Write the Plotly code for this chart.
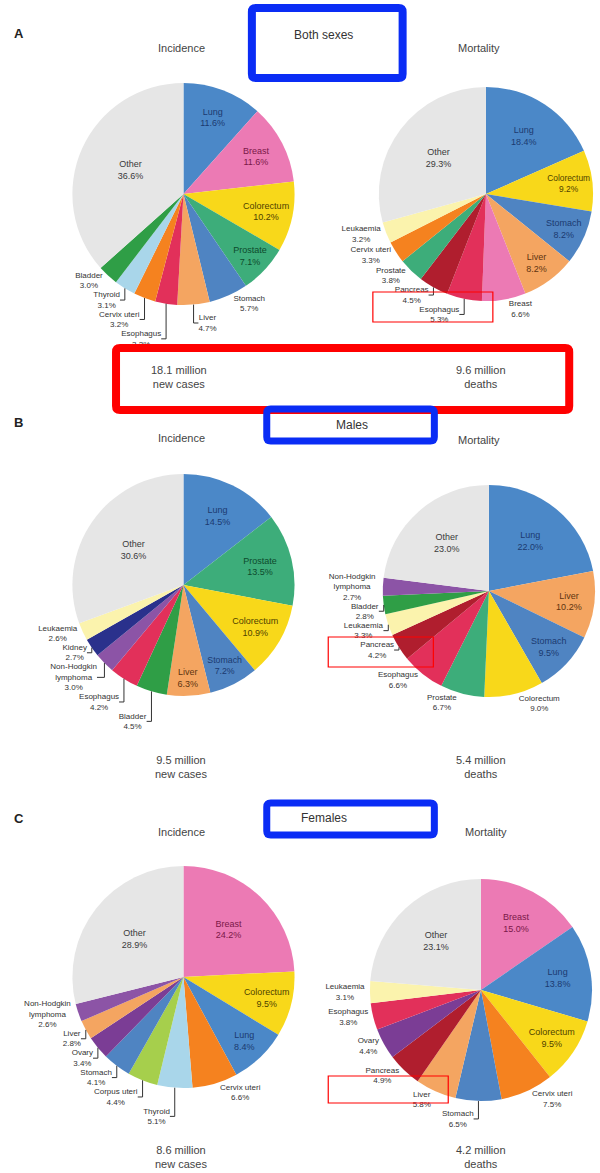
import plotly.graph_objects as go

W, H = 600, 1173

# ---------------- data ----------------
a_inc_labels = ["Lung", "Breast", "Colorectum", "Prostate", "Stomach", "Liver", "Esophagus",
                "Cervix uteri", "Thyroid", "Bladder", "Other"]
a_inc_values = [11.6, 11.6, 10.2, 7.1, 5.7, 4.7, 3.2, 3.2, 3.1, 3.0, 36.6]

a_mort_labels = ["Lung", "Colorectum", "Stomach", "Liver", "Breast", "Esophagus", "Pancreas",
                 "Prostate", "Cervix uteri", "Leukaemia", "Other"]
a_mort_values = [18.4, 9.2, 8.2, 8.2, 6.6, 5.3, 4.5, 3.8, 3.3, 3.2, 29.3]

b_inc_labels = ["Lung", "Prostate", "Colorectum", "Stomach", "Liver", "Bladder", "Esophagus",
                "Non-Hodgkin lymphoma", "Kidney", "Leukaemia", "Other"]
b_inc_values = [14.5, 13.5, 10.9, 7.2, 6.3, 4.5, 4.2, 3.0, 2.7, 2.6, 30.6]

b_mort_labels = ["Lung", "Liver", "Stomach", "Colorectum", "Prostate", "Esophagus", "Pancreas",
                 "Leukaemia", "Bladder", "Non-Hodgkin lymphoma", "Other"]
b_mort_values = [22.0, 10.2, 9.5, 9.0, 6.7, 6.6, 4.2, 3.3, 2.8, 2.7, 23.0]

c_inc_labels = ["Breast", "Colorectum", "Lung", "Cervix uteri", "Thyroid", "Corpus uteri",
                "Stomach", "Ovary", "Liver", "Non-Hodgkin lymphoma", "Other"]
c_inc_values = [24.2, 9.5, 8.4, 6.6, 5.1, 4.4, 4.1, 3.4, 2.8, 2.6, 28.9]

c_mort_labels = ["Breast", "Lung", "Colorectum", "Cervix uteri", "Stomach", "Liver", "Pancreas",
                 "Ovary", "Esophagus", "Leukaemia", "Other"]
c_mort_values = [15.0, 13.8, 9.5, 7.5, 6.5, 5.8, 4.9, 4.4, 3.8, 3.1, 23.1]

totals = [("18.1 million", "new cases"), ("9.6 million", "deaths"),
          ("9.5 million", "new cases"), ("5.4 million", "deaths"),
          ("8.6 million", "new cases"), ("4.2 million", "deaths")]

# ---------------- styles ----------------
colors = {
    "Lung": "#4b88c8", "Breast": "#ec7ab4", "Colorectum": "#f8d81a", "Prostate": "#3dad7a",
    "Stomach": "#4f84c2", "Liver": "#f4a561", "Esophagus": "#e2305a", "Cervix uteri": "#f5821f",
    "Thyroid": "#a9d6ea", "Bladder": "#2f9e46", "Other": "#e6e6e6", "Pancreas": "#b01e2e",
    "Leukaemia": "#fbf3ad", "Non-Hodgkin lymphoma": "#8c54a6", "Kidney": "#2a318c",
    "Corpus uteri": "#a6cf4c", "Ovary": "#7b3d95",
}
inside_text_color = {
    "Lung": "#1c3a70", "Breast": "#7a1848", "Colorectum": "#4f4200", "Prostate": "#0d4a2c",
    "Stomach": "#1c3a70", "Liver": "#5e3410", "Other": "#3a3a3a",
}
FONT = "Liberation Sans, Arial, sans-serif"


def label_text(lbl, v):
    name = "Non-Hodgkin<br>lymphoma" if lbl == "Non-Hodgkin lymphoma" else lbl
    return f"{name}<br>{v:.1f}%"


def domain(cx, cy, r):
    return dict(x=[(cx - r) / W, (cx + r) / W], y=[1 - (cy + r) / H, 1 - (cy - r) / H])


pies = [
    (a_inc_labels, a_inc_values, {"Lung", "Breast", "Colorectum", "Prostate", "Other"}, (185, 194, 112)),
    (a_mort_labels, a_mort_values, {"Lung", "Colorectum", "Stomach", "Liver", "Other"}, (490, 194, 108)),
    (b_inc_labels, b_inc_values, {"Lung", "Prostate", "Colorectum", "Stomach", "Liver", "Other"}, (185, 585, 112)),
    (b_mort_labels, b_mort_values, {"Lung", "Liver", "Stomach", "Other"}, (493, 591, 107)),
    (c_inc_labels, c_inc_values, {"Breast", "Colorectum", "Lung", "Other"}, (185, 977, 112)),
    (c_mort_labels, c_mort_values, {"Breast", "Lung", "Colorectum", "Other"}, (485, 990, 112)),
]

fig = go.Figure()
for labels, values, inside, (cx, cy, r) in pies:
    fig.add_trace(go.Pie(
        labels=labels, values=values,
        text=[label_text(l, v) for l, v in zip(labels, values)],
        texttemplate="%{text}",
        textposition=["inside" if l in inside else "outside" for l in labels],
        insidetextorientation="horizontal",
        insidetextfont=dict(family=FONT, size=9,
                            color=[inside_text_color.get(l, "#333") for l in labels]),
        outsidetextfont=dict(family=FONT, size=8, color="#333"),
        marker=dict(colors=[colors[l] for l in labels], line=dict(width=0)),
        sort=False, direction="clockwise", rotation=0,
        domain=domain(cx, cy, r), showlegend=False, hoverinfo="label+value",
    ))


def px(x, y):
    return x / W, 1 - y / H


annotations = []


def text(x, y, s, size=11, color="#444", bold=False, xanchor="center"):
    xx, yy = px(x, y)
    annotations.append(dict(x=xx, y=yy, xref="paper", yref="paper", text=f"<b>{s}</b>" if bold else s,
                            showarrow=False, xanchor=xanchor, yanchor="middle",
                            font=dict(family=FONT, size=size, color=color)))


for letter, y in [("A", 33), ("B", 422), ("C", 818)]:
    text(12, y, letter, size=13, color="#222", bold=True, xanchor="left")
for y in [48, 438, 832]:
    text(183, y, "Incidence")
text(483, 48, "Mortality")
text(483, 440, "Mortality")
text(490, 832, "Mortality")
text(326, 35, "Both sexes", size=12, color="#333")
text(355, 425, "Males", size=12, color="#333")
text(327, 818, "Females", size=12, color="#333")

tot_pos = [(180, 377), (485, 377), (183, 767), (485, 767), (183, 1157), (485, 1157)]
for (a, b), (x, y) in zip(totals, tot_pos):
    text(x, y, f"{a}<br>{b}", size=11, color="#444")

shapes = []


def rounded(x0, y0, x1, y1, rad, color, width):
    def p(x, y):
        xx, yy = px(x, y)
        return f"{xx:.5f},{yy:.5f}"
    path = (f"M {p(x0 + rad, y0)} L {p(x1 - rad, y0)} Q {p(x1, y0)} {p(x1, y0 + rad)} "
            f"L {p(x1, y1 - rad)} Q {p(x1, y1)} {p(x1 - rad, y1)} "
            f"L {p(x0 + rad, y1)} Q {p(x0, y1)} {p(x0, y1 - rad)} "
            f"L {p(x0, y0 + rad)} Q {p(x0, y0)} {p(x0 + rad, y0)} Z")
    shapes.append(dict(type="path", path=path, xref="paper", yref="paper",
                       line=dict(color=color, width=width)))


rounded(254, 8, 406, 78, 4, "#0a2cf5", 8)
rounded(117, 348, 574, 410, 4, "#ff0000", 8)
rounded(269, 409, 438, 441, 4, "#0a2cf5", 7)
rounded(269, 803, 438, 835, 4, "#0a2cf5", 7)


def thin_rect(x0, y0, x1, y1):
    a = px(x0, y0)
    b = px(x1, y1)
    shapes.append(dict(type="rect", xref="paper", yref="paper", x0=a[0], y0=b[1], x1=b[0], y1=a[1],
                       line=dict(color="#ff0000", width=1.2)))


thin_rect(376, 292, 497, 322)
thin_rect(331, 637, 437, 667)
thin_rect(331, 1076, 452, 1103)

fig.update_layout(width=W, height=H, margin=dict(l=0, r=0, t=0, b=0),
                  paper_bgcolor="white", plot_bgcolor="white",
                  annotations=annotations, shapes=shapes, font=dict(family=FONT))
fig.write_html("out.html", config={"displayModeBar": False},
               post_script="document.body.style.margin='0px';")
